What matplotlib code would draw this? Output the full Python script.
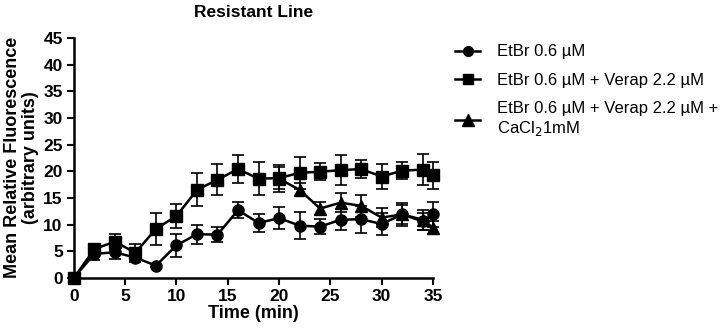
import matplotlib
matplotlib.use("Agg")
import matplotlib.pyplot as plt
from matplotlib.lines import Line2D

plt.rcParams['font.family'] = ['Liberation Sans', 'DejaVu Sans']

time = [0, 2, 4, 6, 8, 10, 12, 14, 16, 18, 20, 22, 24, 26, 28, 30, 32, 34, 35]
etbr = [0, 4.5, 4.8, 3.8, 2.3, 6.1, 8.2, 8.1, 12.7, 10.3, 11.2, 9.8, 9.6, 10.9, 11.0, 10.1, 11.9, 10.6, 11.9]
etbr_err = [0, 1.2, 1.3, 0.8, 0.3, 2.1, 1.8, 1.4, 1.5, 1.7, 2.0, 2.5, 1.4, 2.0, 2.5, 2.0, 1.8, 1.6, 2.3]
verap = [0, 5.4, 6.8, 4.7, 9.2, 11.6, 16.5, 18.4, 20.4, 18.6, 18.7, 19.7, 19.9, 20.2, 20.4, 19.0, 20.1, 20.3, 19.2]
verap_err = [0, 1.0, 1.5, 1.6, 3.0, 2.2, 3.1, 2.9, 2.7, 3.1, 2.0, 3.0, 1.6, 2.8, 1.7, 2.3, 1.6, 2.9, 2.6]
ca_time = [20, 22, 24, 26, 28, 30, 32, 34, 35]
ca = [18.6, 16.5, 13.0, 14.1, 13.5, 11.3, 11.9, 10.9, 9.4]
ca_err = [2.5, 1.2, 1.2, 1.8, 2.0, 1.8, 2.2, 1.9, 1.2]

labels = ["EtBr 0.6 \u00b5M", "EtBr 0.6 \u00b5M + Verap 2.2 \u00b5M",
          "EtBr 0.6 \u00b5M + Verap 2.2 \u00b5M +\nCaCl$_2$1mM"]

fig = plt.figure(figsize=(7.24, 3.32), dpi=100)
ax = fig.add_axes([0.102, 0.163, 0.496, 0.723])

kw = dict(color='black', lw=1.8, capsize=4, elinewidth=1.2, capthick=1.2, clip_on=False, zorder=3)
ax.errorbar(time, etbr, yerr=etbr_err, marker='o', markersize=8, **kw)
ax.errorbar(time, verap, yerr=verap_err, marker='s', markersize=8, **kw)
ax.errorbar(ca_time, ca, yerr=ca_err, marker='^', markersize=9, **kw)

ax.set_xlim(0, 35)
ax.set_ylim(0, 45)
ax.set_xticks(range(0, 36, 5))
ax.set_yticks(range(0, 46, 5))
for s in ['top', 'right']:
    ax.spines[s].set_visible(False)
for s in ['left', 'bottom']:
    ax.spines[s].set_linewidth(1.8)
ax.tick_params(width=1.5, length=5, labelsize=12.5, direction='out', pad=3)
for lab in ax.get_xticklabels() + ax.get_yticklabels():
    lab.set_fontweight('bold')
ax.set_xlabel("Time (min)", fontsize=13, fontweight='bold', labelpad=1)
ax.set_ylabel("Mean Relative Fluorescence\n(arbitrary units)", fontsize=13, fontweight='bold',
              labelpad=3, linespacing=1.1)
ax.set_title("Resistant Line", fontsize=12.5, fontweight='bold', pad=15)

handles = [Line2D([], [], color='black', lw=1.8, marker='o', markersize=7),
           Line2D([], [], color='black', lw=1.8, marker='s', markersize=7),
           Line2D([], [], color='black', lw=1.8, marker='^', markersize=8)]
leg = ax.legend(handles, labels, loc='upper left', bbox_to_anchor=(1.02, 1.035), frameon=False,
                fontsize=12, handlelength=1.5, labelspacing=0.8, handletextpad=1.0)

fig.savefig("out.png", dpi=100)
